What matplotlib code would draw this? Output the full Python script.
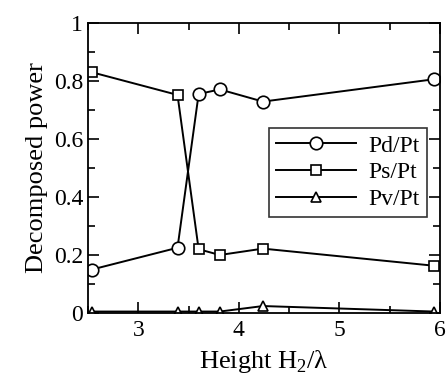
import numpy as np
import matplotlib
matplotlib.use('Agg')
import matplotlib.pyplot as plt
from matplotlib.ticker import MultipleLocator

plt.rcParams['font.family'] = ['Liberation Serif', 'DejaVu Serif']
plt.rcParams['mathtext.fontset'] = 'custom'
plt.rcParams['mathtext.rm'] = 'Liberation Serif'

# 数据
height = [2.54, 3.39, 3.60, 3.81, 4.24, 5.94]
pd_pt = [0.15, 0.225, 0.755, 0.771, 0.729, 0.806]
ps_pt = [0.83, 0.752, 0.22, 0.20, 0.222, 0.163]
pv_pt = [0.005, 0.005, 0.005, 0.005, 0.024, 0.005]
labels = ['Pd/Pt', 'Ps/Pt', 'Pv/Pt']

fig = plt.figure(figsize=(4.47, 3.76), dpi=100)
ax = fig.add_axes([88 / 447, 1 - 313 / 376, 352 / 447, 290 / 376])

ax.plot(height, pd_pt, '-o', color='black', lw=1.4, ms=9, mfc='white', mew=1.2, label=labels[0])
ax.plot(height, ps_pt, '-s', color='black', lw=1.4, ms=6.5, mfc='white', mew=1.2, label=labels[1])
ax.plot(height, pv_pt, '-^', color='black', lw=1.4, ms=6.5, mfc='white', mew=1.2, label=labels[2])

ax.set_xlim(2.5, 6)
ax.set_ylim(0, 1)
ax.xaxis.set_major_locator(MultipleLocator(1))
ax.xaxis.set_minor_locator(MultipleLocator(0.5))
ax.yaxis.set_minor_locator(MultipleLocator(0.1))
ax.set_yticks([0, 0.2, 0.4, 0.6, 0.8, 1])
ax.set_yticklabels(['0', '0.2', '0.4', '0.6', '0.8', '1'])
ax.tick_params(which='both', direction='in', top=True, right=True, labelsize=17, width=1.2)
ax.tick_params(which='major', length=8)
ax.tick_params(which='minor', length=5)
ax.tick_params(axis='x', pad=5)
for s in ax.spines.values():
    s.set_linewidth(1.3)

ax.set_xlabel('Height H$_2$/λ', fontsize=19, labelpad=5)
ax.set_ylabel('Decomposed power', fontsize=19, labelpad=4)

leg = ax.legend(loc='upper left', bbox_to_anchor=((269 - 88) / 352, (313 - 128) / 290),
                fontsize=17, frameon=True, fancybox=False, edgecolor='black',
                handlelength=3.4, borderpad=0.3, labelspacing=0.22, handletextpad=0.5,
                borderaxespad=0)
leg.get_frame().set_linewidth(1.2)

fig.savefig('out.png', dpi=100)
